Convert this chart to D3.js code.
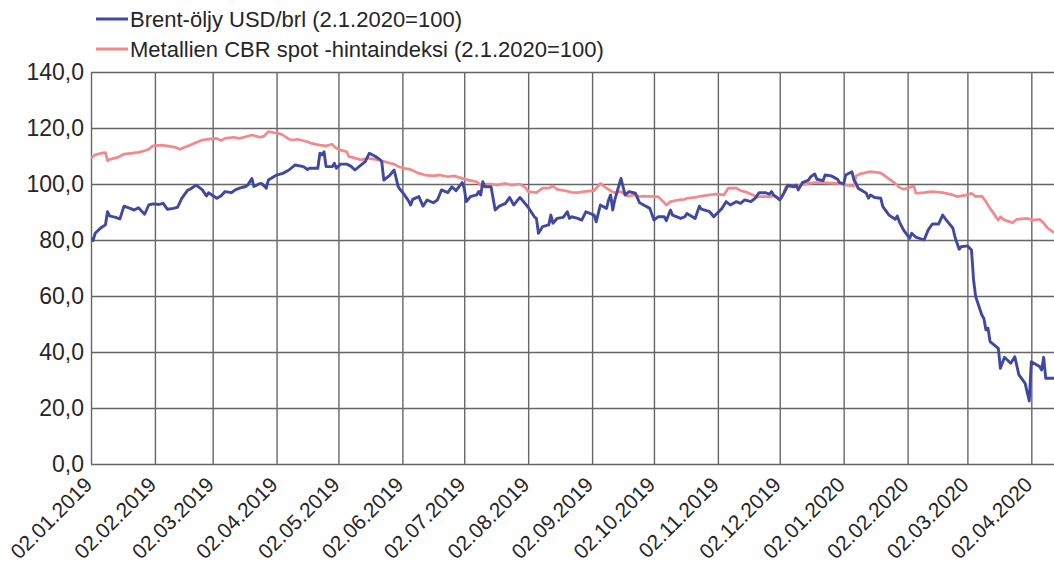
<!DOCTYPE html>
<html>
<head>
<meta charset="utf-8">
<script src="https://cdn.jsdelivr.net/npm/d3@7/dist/d3.min.js"></script>
<style>
  html, body { margin: 0; padding: 0; background: #fff; }
  svg { display: block; }
  text { font-family: "Liberation Sans", Arial, sans-serif; fill: #262626; }
</style>
</head>
<body>
<svg id="chart" width="1054" height="565"></svg>
<script>
// ---------- DATA ----------
const seriesNames = ["Brent-öljy USD/brl (2.1.2020=100)", "Metallien CBR spot -hintaindeksi (2.1.2020=100)"];
const yTicks = [0, 20, 40, 60, 80, 100, 120, 140];
const xTickDates = ["2019-01-02","2019-02-02","2019-03-02","2019-04-02","2019-05-02","2019-06-02","2019-07-02",
  "2019-08-02","2019-09-02","2019-10-02","2019-11-02","2019-12-02","2020-01-02","2020-02-02","2020-03-02","2020-04-02"];
const xDomain = ["2019-01-02", "2020-04-13"];

const brentDates = ["2019-01-02","2019-01-03","2019-01-04","2019-01-07","2019-01-09","2019-01-10","2019-01-11","2019-01-14","2019-01-16","2019-01-18",
"2019-01-21","2019-01-23","2019-01-25","2019-01-28","2019-01-30","2019-02-01","2019-02-04","2019-02-06","2019-02-08","2019-02-11",
"2019-02-13","2019-02-15","2019-02-18","2019-02-19","2019-02-22","2019-02-25","2019-02-27","2019-02-28","2019-03-04","2019-03-06",
"2019-03-08","2019-03-11","2019-03-13","2019-03-15","2019-03-18","2019-03-19","2019-03-21","2019-03-22","2019-03-25","2019-03-26",
"2019-03-28","2019-03-29","2019-04-02","2019-04-05","2019-04-08","2019-04-11","2019-04-15","2019-04-17","2019-04-18","2019-04-22",
"2019-04-23","2019-04-24","2019-04-25","2019-04-26","2019-04-29","2019-04-30","2019-05-01","2019-05-03","2019-05-06","2019-05-08",
"2019-05-10","2019-05-13","2019-05-15","2019-05-17","2019-05-20","2019-05-22","2019-05-23","2019-05-24","2019-05-27","2019-05-29",
"2019-05-31","2019-06-03","2019-06-05","2019-06-06","2019-06-07","2019-06-10","2019-06-12","2019-06-14","2019-06-17","2019-06-19",
"2019-06-21","2019-06-24","2019-06-26","2019-06-28","2019-07-01","2019-07-02","2019-07-03","2019-07-05","2019-07-08","2019-07-09",
"2019-07-10","2019-07-11","2019-07-12","2019-07-15","2019-07-17","2019-07-19","2019-07-22","2019-07-24","2019-07-26","2019-07-29",
"2019-08-02","2019-08-05","2019-08-06","2019-08-07","2019-08-09","2019-08-12","2019-08-13","2019-08-14","2019-08-16","2019-08-19",
"2019-08-21","2019-08-22","2019-08-23","2019-08-26","2019-08-28","2019-08-30","2019-09-03","2019-09-04","2019-09-06","2019-09-09",
"2019-09-10","2019-09-11","2019-09-12","2019-09-13","2019-09-16","2019-09-18","2019-09-20","2019-09-23","2019-09-25","2019-09-27",
"2019-09-30","2019-10-02","2019-10-04","2019-10-07","2019-10-08","2019-10-10","2019-10-11","2019-10-15","2019-10-17","2019-10-18",
"2019-10-22","2019-10-24","2019-10-25","2019-10-29","2019-10-31","2019-11-04","2019-11-06","2019-11-08","2019-11-11","2019-11-13",
"2019-11-15","2019-11-18","2019-11-20","2019-11-22","2019-11-25","2019-11-27","2019-11-28","2019-11-29","2019-12-02","2019-12-04",
"2019-12-06","2019-12-09","2019-12-10","2019-12-11","2019-12-13","2019-12-16","2019-12-17","2019-12-19","2019-12-20","2019-12-23",
"2019-12-24","2019-12-27","2019-12-30","2019-12-31","2020-01-02","2020-01-03","2020-01-06","2020-01-07","2020-01-08","2020-01-09",
"2020-01-13","2020-01-14","2020-01-15","2020-01-17","2020-01-20","2020-01-21","2020-01-24","2020-01-27","2020-01-28","2020-01-29",
"2020-01-31","2020-02-03","2020-02-04","2020-02-06","2020-02-10","2020-02-12","2020-02-14","2020-02-17","2020-02-19","2020-02-21",
"2020-02-24","2020-02-25","2020-02-27","2020-02-28","2020-03-02","2020-03-04","2020-03-05","2020-03-06","2020-03-09","2020-03-10",
"2020-03-11","2020-03-12","2020-03-13","2020-03-17","2020-03-18","2020-03-20","2020-03-23","2020-03-25","2020-03-26","2020-03-27",
"2020-03-30","2020-04-01","2020-04-02","2020-04-06","2020-04-07","2020-04-08","2020-04-09","2020-04-13"];
const brentValues = [80.6,79.8,82.4,84.5,85.4,90.1,88.6,88.1,87.5,92.1,
91.3,90.7,91.5,89.2,92.5,92.9,92.7,93.1,91.0,91.3,
91.7,94.9,97.9,98.1,99.6,97.9,95.7,96.9,94.9,95.7,
97.3,96.9,97.9,98.5,99.1,99.6,102.0,99.1,100.2,100.0,
98.5,101.4,103.2,103.8,105.0,106.8,106.2,105.2,105.6,105.6,
111.0,110.4,111.5,106.2,106.2,107.4,105.6,107.1,107.1,106.4,
105.0,106.8,108.0,111.0,109.8,108.8,108.0,101.4,103.2,105.0,
99.0,96.1,94.0,92.5,94.5,95.5,92.1,94.3,93.3,94.3,
97.9,96.9,99.0,97.6,100.5,98.5,93.7,95.5,96.1,97.3,
96.1,100.8,99.0,99.0,90.7,92.1,93.1,95.2,92.5,95.2,
91.7,88.3,87.7,82.4,84.8,85.4,88.9,86.0,87.7,88.1,
90.1,87.7,88.3,87.7,87.1,90.1,88.9,86.5,92.5,91.3,
94.3,96.1,90.7,94.3,102.0,96.1,97.3,96.7,93.3,92.5,
91.3,87.1,88.3,88.3,86.9,90.7,88.9,87.7,88.3,89.5,
87.7,92.1,91.0,90.1,88.3,91.3,93.7,92.5,93.7,93.1,
94.3,93.7,94.9,96.9,96.9,96.4,97.3,96.1,94.3,96.7,
99.6,99.0,99.6,97.9,100.5,101.4,102.6,103.6,101.7,101.2,
103.2,102.9,101.7,100.5,100.0,103.2,104.4,101.4,100.2,98.5,
96.7,94.9,96.1,95.2,94.9,91.9,88.9,87.4,88.6,86.5,
83.6,80.6,82.4,81.0,80.0,83.6,85.7,85.7,88.9,86.9,
84.2,81.0,76.7,77.6,77.9,76.4,65.7,59.8,53.2,52.0,
47.9,48.5,43.7,41.3,34.2,38.1,36.0,38.3,35.0,31.8,
28.8,22.5,36.5,34.8,33.6,38.1,30.6,30.6];

const metalDates = ["2019-01-02","2019-01-04","2019-01-07","2019-01-09","2019-01-10","2019-01-11","2019-01-15","2019-01-18","2019-01-22","2019-01-25",
"2019-01-28","2019-01-30","2019-02-01","2019-02-05","2019-02-08","2019-02-12","2019-02-14","2019-02-18","2019-02-22","2019-02-25",
"2019-02-28","2019-03-04","2019-03-06","2019-03-08","2019-03-12","2019-03-15","2019-03-18","2019-03-21","2019-03-25","2019-03-27",
"2019-03-29","2019-04-01","2019-04-03","2019-04-05","2019-04-08","2019-04-10","2019-04-12","2019-04-17","2019-04-19","2019-04-23",
"2019-04-26","2019-04-29","2019-04-30","2019-05-02","2019-05-03","2019-05-06","2019-05-07","2019-05-09","2019-05-13","2019-05-16",
"2019-05-20","2019-05-23","2019-05-27","2019-05-29","2019-05-31","2019-06-03","2019-06-06","2019-06-10","2019-06-11","2019-06-13",
"2019-06-17","2019-06-20","2019-06-24","2019-06-27","2019-07-01","2019-07-04","2019-07-08","2019-07-10","2019-07-12","2019-07-15",
"2019-07-18","2019-07-22","2019-07-25","2019-07-29","2019-08-01","2019-08-02","2019-08-06","2019-08-09","2019-08-12","2019-08-14",
"2019-08-16","2019-08-20","2019-08-23","2019-08-26","2019-08-29","2019-09-03","2019-09-04","2019-09-06","2019-09-09","2019-09-11",
"2019-09-13","2019-09-16","2019-09-19","2019-09-23","2019-09-25","2019-09-27","2019-10-02","2019-10-04","2019-10-07","2019-10-08",
"2019-10-10","2019-10-14","2019-10-17","2019-10-18","2019-10-22","2019-10-25","2019-10-29","2019-11-01","2019-11-05","2019-11-07",
"2019-11-11","2019-11-13","2019-11-15","2019-11-19","2019-11-21","2019-11-22","2019-11-27","2019-11-29","2019-12-02","2019-12-03",
"2019-12-05","2019-12-09","2019-12-12","2019-12-16","2019-12-19","2019-12-23","2019-12-30","2020-01-02","2020-01-03","2020-01-07",
"2020-01-08","2020-01-10","2020-01-15","2020-01-20","2020-01-22","2020-01-27","2020-01-29","2020-01-31","2020-02-04","2020-02-05",
"2020-02-06","2020-02-10","2020-02-14","2020-02-19","2020-02-24","2020-02-26","2020-03-02","2020-03-04","2020-03-06","2020-03-09",
"2020-03-11","2020-03-13","2020-03-17","2020-03-18","2020-03-20","2020-03-24","2020-03-26","2020-03-31","2020-04-03","2020-04-06",
"2020-04-08","2020-04-10","2020-04-13"];
const metalValues = [109.2,110.4,111.0,111.2,108.3,108.8,109.5,110.7,111.0,111.3,
111.9,112.4,113.6,113.9,113.6,113.1,112.4,113.6,114.8,115.7,
116.0,116.3,115.5,116.3,116.7,116.3,116.9,117.5,116.7,117.1,
118.7,118.3,118.1,117.5,116.0,115.7,116.0,115.1,114.5,113.9,
113.6,114.2,113.3,112.4,112.1,111.5,109.8,109.5,108.6,109.2,
108.8,108.3,107.4,107.1,106.2,105.6,105.2,103.8,103.6,103.2,
102.9,103.2,102.6,102.9,102.0,101.4,100.8,99.6,100.0,100.0,
99.6,100.2,99.6,100.0,98.5,97.3,96.9,98.5,98.5,99.3,
98.1,97.6,97.0,96.9,97.3,97.6,98.5,100.2,98.5,97.6,
96.9,97.3,95.7,96.1,95.5,95.7,95.5,95.5,93.3,92.5,
93.7,94.3,94.5,94.9,95.2,95.7,96.1,96.4,96.1,98.5,
98.5,97.6,97.3,96.1,95.2,95.5,95.5,95.7,94.9,95.2,
99.0,99.0,99.6,100.2,100.5,100.5,100.2,100.0,99.6,99.3,
102.9,103.6,104.4,104.0,102.9,100.2,98.8,98.1,99.0,99.3,
96.7,96.9,97.3,96.9,96.1,95.5,96.1,96.7,95.5,95.7,
93.7,91.3,87.1,88.3,87.1,86.2,87.4,87.7,87.1,87.4,
86.0,84.2,82.6];

// ---------- CHART ----------
const parse = d3.timeParse("%Y-%m-%d");
const svg = d3.select("#chart");
const plotLeft = 91, plotRight = 1054, plotTop = 72, plotBottom = 464;

const x = d3.scaleTime().domain(xDomain.map(parse)).range([plotLeft, plotRight]);
const y = d3.scaleLinear().domain([0, 140]).range([plotBottom, plotTop]);

const gridColor = "#666666";
const yFs = 23;
const xFs = 21;
const legendFs = 22;

// Y axis with gridlines
const yAxis = svg.append("g").attr("transform", `translate(${plotLeft},0)`)
  .call(d3.axisLeft(y).tickValues(yTicks).tickSizeInner(-(plotRight - plotLeft)).tickSizeOuter(0).tickPadding(7)
    .tickFormat(d => d3.format(".1f")(d).replace(".", ",")));
yAxis.select(".domain").remove();
yAxis.selectAll("line").attr("stroke", gridColor).attr("stroke-width", 1.4);
yAxis.selectAll("text").style("font-size", yFs + "px").attr("fill", "#262626");

// X axis with gridlines
const xFmt = d3.timeFormat("%d.%m.%Y");
const xAxis = svg.append("g").attr("transform", `translate(0,${plotBottom})`)
  .call(d3.axisBottom(x).tickValues(xTickDates.map(parse)).tickSizeInner(-(plotBottom - plotTop)).tickSizeOuter(0).tickFormat(xFmt));
xAxis.select(".domain").remove();
xAxis.selectAll("line").attr("stroke", gridColor).attr("stroke-width", 1.4);
xAxis.selectAll("text")
  .style("font-size", xFs + "px").attr("fill", "#262626")
  .attr("text-anchor", "end")
  .attr("x", 0).attr("y", 0).attr("dy", "0")
  .attr("transform", "translate(2,22) rotate(-45)");

// clip
svg.append("clipPath").attr("id", "plotclip").append("rect")
  .attr("x", plotLeft).attr("y", plotTop - 5).attr("width", plotRight - plotLeft).attr("height", plotBottom - plotTop + 10);

const line = d3.line().x(d => x(d[0])).y(d => y(d[1]));
const brent = brentDates.map((d, i) => [parse(d), brentValues[i]]);
const metal = metalDates.map((d, i) => [parse(d), metalValues[i]]);

const colors = ["#4049a0", "#f3898b"];

svg.append("path").datum(metal).attr("clip-path", "url(#plotclip)")
  .attr("fill", "none").attr("stroke", colors[1]).attr("stroke-width", 2.7)
  .attr("stroke-linejoin", "round").attr("d", line);
svg.append("path").datum(brent).attr("clip-path", "url(#plotclip)")
  .attr("fill", "none").attr("stroke", colors[0]).attr("stroke-width", 2.9)
  .attr("stroke-linejoin", "round").attr("d", line);

// legend
const legend = svg.append("g");
seriesNames.forEach((name, i) => {
  const ly = 19 + i * 30;
  legend.append("line").attr("x1", 96).attr("x2", 128).attr("y1", ly).attr("y2", ly)
    .attr("stroke", colors[i]).attr("stroke-width", 3);
  legend.append("text").attr("x", 130).attr("y", ly).attr("dy", "0.36em")
    .style("font-size", legendFs + "px").text(name);
});
</script>
</body>
</html>
